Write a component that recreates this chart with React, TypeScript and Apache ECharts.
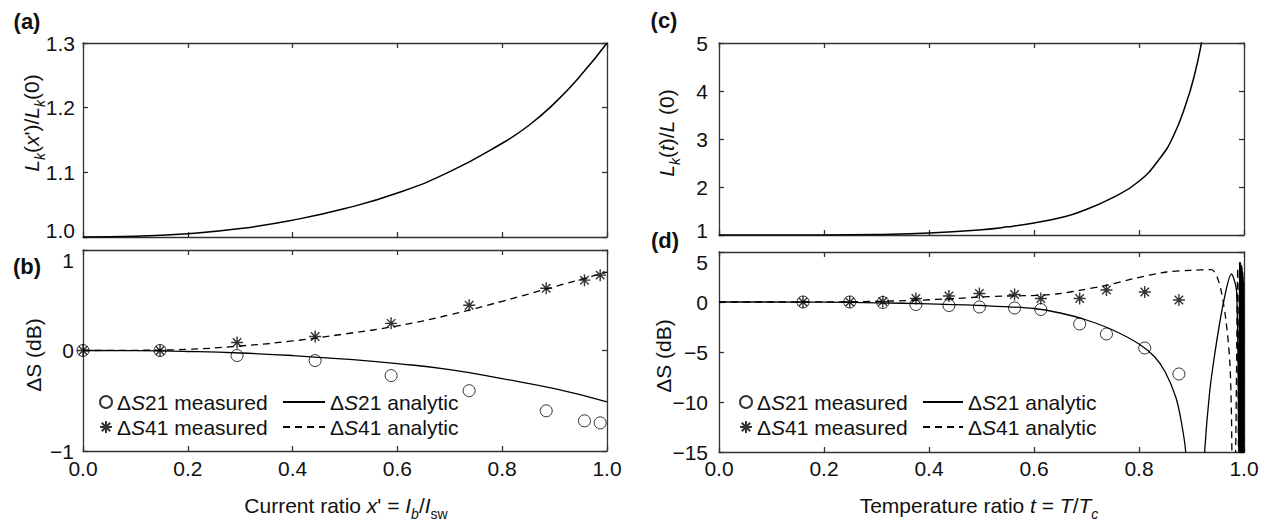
import React, { useEffect, useRef } from "react";
import * as echarts from "echarts";

// ---------- data ----------
// (a) Lk(x')/Lk(0) vs current ratio
const xA = [0, 0.1, 0.2, 0.3, 0.4, 0.5, 0.6, 0.7, 0.8, 0.85, 0.9, 0.95, 1.0];
const lkA = [1.0, 1.001, 1.005, 1.013, 1.026, 1.044, 1.068, 1.101, 1.145, 1.172, 1.207, 1.25, 1.3];

// (b) ΔS vs current ratio
const xMeasB = [0.0, 0.147, 0.294, 0.443, 0.588, 0.737, 0.884, 0.957, 0.987];
const s21MeasB = [0, 0, -0.05, -0.1, -0.25, -0.4, -0.6, -0.7, -0.72];
const s41MeasB = [0, 0, 0.08, 0.14, 0.27, 0.45, 0.62, 0.7, 0.75];
const xAnB = [0, 0.1, 0.2, 0.3, 0.4, 0.5, 0.6, 0.7, 0.8, 0.9, 1.0];
const s21AnB = [0, -0.002, -0.01, -0.025, -0.05, -0.085, -0.13, -0.19, -0.28, -0.38, -0.51];
const s41AnB = [0, 0.002, 0.012, 0.045, 0.095, 0.165, 0.245, 0.355, 0.49, 0.635, 0.78];

// (c) Lk(t)/L(0) vs temperature ratio
const tC = [0, 0.1, 0.2, 0.3, 0.4, 0.5, 0.55, 0.6, 0.65, 0.687, 0.75, 0.8, 0.84, 0.865, 0.89, 0.906, 0.919, 0.928];
const lkC = [1, 1, 1, 1.01, 1.04, 1.11, 1.17, 1.25, 1.36, 1.48, 1.78, 2.12, 2.6, 3.05, 3.75, 4.35, 5.0, 5.6];

// (d) ΔS vs temperature ratio
const tMeasD = [0.16, 0.249, 0.312, 0.375, 0.438, 0.496, 0.563, 0.613, 0.687, 0.738, 0.811, 0.876];
const s21MeasD = [0, 0, -0.05, -0.25, -0.35, -0.5, -0.6, -0.75, -2.2, -3.2, -4.6, -7.2];
const s41MeasD = [0, 0, 0.05, 0.35, 0.6, 0.85, 0.75, 0.35, 0.35, 1.2, 1.0, 0.2];
const t21AnD = [0, 0.1, 0.2, 0.3, 0.4, 0.5, 0.6, 0.65, 0.7, 0.75, 0.8, 0.83, 0.85, 0.87, 0.88, 0.889, 0.9, 0.915, 0.925, 0.934, 0.944, 0.96, 0.976, 0.986, 0.99, 0.9915, 0.9925, 0.9932, 0.994, 0.9947, 0.9955, 0.9962, 0.997, 0.9977, 0.9984, 0.999, 0.9995, 1.0];
const s21AnD = [0, 0, -0.02, -0.08, -0.18, -0.35, -0.65, -1.1, -1.8, -2.8, -4.2, -5.5, -7.0, -9.5, -11.8, -15, -25, -25, -15, -9.3, -5.3, -0.3, 2.8, 1.0, -15, 4, -20, 4, -20, 3.5, -20, 3.5, -20, 3, -20, 2, -20, -20];
const t41AnD = [0, 0.1, 0.2, 0.3, 0.376, 0.45, 0.497, 0.55, 0.611, 0.65, 0.687, 0.738, 0.789, 0.852, 0.897, 0.938, 0.948, 0.957, 0.966, 0.973, 0.976, 0.977, 0.98, 0.984, 0.988, 0.9895, 0.9905, 0.992, 0.993, 0.9938, 0.9945, 0.9952, 0.996, 0.9967, 0.9975, 0.9982, 0.9988, 0.9993, 1.0];
const s41AnD = [0, 0, 0.01, 0.06, 0.17, 0.35, 0.5, 0.6, 0.67, 0.85, 1.17, 1.67, 2.33, 3.0, 3.17, 3.23, 2.6, 1.0, -2, -6, -11, -15, -22, -15, 3.4, -15, -22, 3.8, -22, 3.5, -22, 3.8, -22, 3, -22, 2.5, -22, 1, -22];

const N_S21M = "ΔS21 measured";
const N_S21A = "ΔS21 analytic";
const N_S41M = "ΔS41 measured";
const N_S41A = "ΔS41 analytic";

// ---------- styling ----------
const FONT = "'Liberation Sans', Arial, Helvetica, sans-serif";
const AX = "#333";
const TXT = "#111";
const STAR = "path://M0,-10L0,10M-10,0L10,0M-7.07,-7.07L7.07,7.07M-7.07,7.07L7.07,-7.07";

const pairs = (xs: number[], ys: number[]) => xs.map((x, i) => [x, ys[i]]);
const minus = (v: number) => String(v).replace("-", "\u2212");

const grids = [
  { left: 83, top: 43, width: 524, height: 194 },
  { left: 83, top: 250, width: 524, height: 201 },
  { left: 719, top: 43, width: 525, height: 192 },
  { left: 719, top: 252, width: 525, height: 200 },
];

// label nudges: edge labels are shifted away from the neighbouring panel
const labelRich = {
  up: { padding: [0, 0, 14, 0], fontSize: 21, fontFamily: FONT, color: TXT },
  upc: { padding: [0, 0, 10, 0], fontSize: 21, fontFamily: FONT, color: TXT },
  dn: { padding: [20, 0, 0, 0], fontSize: 21, fontFamily: FONT, color: TXT },
};

function axis(gridIndex: number, position: string, showLabel: boolean, min: number, max: number, interval: number, fmt: (v: number) => string, margin: number) {
  return {
    type: "value",
    gridIndex,
    position,
    min,
    max,
    interval,
    axisLine: { show: true, onZero: false, lineStyle: { color: AX, width: 1.3 } },
    axisTick: { show: true, inside: true, length: 5, lineStyle: { color: AX, width: 1.3 } },
    splitLine: { show: false },
    axisLabel: {
      show: showLabel,
      formatter: fmt,
      color: TXT,
      fontSize: 21,
      fontFamily: FONT,
      margin,
      rich: labelRich,
    },
  };
}

const fx1 = (v: number) => v.toFixed(1);
const fmtA = (v: number) => (Math.abs(v - 1) < 1e-6 ? `{up|${v.toFixed(1)}}` : v.toFixed(1));
const fmtB = (v: number) => (v === 1 ? `{dn|1}` : minus(v));
const fmtC = (v: number) => (v === 1 ? `{upc|1}` : minus(v));
const fmtD = (v: number) => (v === 5 ? `{dn|5}` : minus(v));

const legendRich = {
  n: { fontSize: 21, fontFamily: FONT, color: TXT },
  i: { fontSize: 21, fontFamily: FONT, color: TXT, fontStyle: "italic" },
};
const legendFmt = (name: string) => `{n|Δ}{i|S}{n|${name.slice(2)}}`;

function legend(left: number, names: string[], itemWidth: number, hideSymbol: boolean) {
  const l: any = {
    data: names,
    orient: "vertical",
    left,
    top: 391,
    padding: 0,
    itemWidth,
    itemHeight: 12,
    itemGap: 3,
    formatter: legendFmt,
    selectedMode: false,
    textStyle: { fontSize: 21, fontFamily: FONT, color: TXT, lineHeight: 22, rich: legendRich },
  };
  if (hideSymbol) l.itemStyle = { color: "rgba(0,0,0,0)", borderColor: "rgba(0,0,0,0)", borderWidth: 0, opacity: 0 };
  return l;
}

const tRich = {
  n: { fontSize: 21, fontFamily: FONT, fill: TXT, lineHeight: 32, verticalAlign: "middle" },
  i: { fontSize: 21, fontFamily: FONT, fill: TXT, lineHeight: 32, verticalAlign: "middle", fontStyle: "italic" },
  si: { fontSize: 14, fontFamily: FONT, fill: TXT, lineHeight: 14, verticalAlign: "bottom", fontStyle: "italic" },
  sn: { fontSize: 14, fontFamily: FONT, fill: TXT, lineHeight: 14, verticalAlign: "bottom" },
};

function richText(x: number, y: number, text: string, rotate: boolean) {
  return {
    type: "text",
    x,
    y,
    rotation: rotate ? Math.PI / 2 : 0,
    style: { text, rich: tRich, align: "center", verticalAlign: "middle", fontSize: 21, fontFamily: FONT, fill: TXT },
    silent: true,
  };
}

function plainText(x: number, y: number, text: string, rotate: boolean, bold = false) {
  return {
    type: "text",
    x,
    y,
    rotation: rotate ? Math.PI / 2 : 0,
    style: {
      text,
      align: "center",
      verticalAlign: "middle",
      fontSize: bold ? 22 : 21,
      fontWeight: bold ? "bold" : "normal",
      fontFamily: FONT,
      fill: TXT,
    },
    silent: true,
  };
}

const circleStyle = { color: "rgba(0,0,0,0)", borderColor: "#000", borderWidth: 1 };
const starStyle = { color: "rgba(0,0,0,0)", borderColor: "#000", borderWidth: 1.4 };

function buildOption() {
  return {
    animation: false,
    backgroundColor: "#fff",
    grid: grids,
    xAxis: [
      axis(0, "bottom", false, 0, 1, 0.2, fx1, 8),
      axis(1, "bottom", true, 0, 1, 0.2, fx1, 7),
      axis(2, "bottom", false, 0, 1, 0.2, fx1, 8),
      axis(3, "bottom", true, 0, 1, 0.2, fx1, 6),
      axis(0, "top", false, 0, 1, 0.2, fx1, 8),
      axis(1, "top", false, 0, 1, 0.2, fx1, 8),
      axis(2, "top", false, 0, 1, 0.2, fx1, 8),
      axis(3, "top", false, 0, 1, 0.2, fx1, 8),
    ],
    yAxis: [
      axis(0, "left", true, 1.0, 1.3, 0.1, fmtA, 8),
      axis(1, "left", true, -1, 1, 1, fmtB, 9),
      axis(2, "left", true, 1, 5, 1, fmtC, 11),
      axis(3, "left", true, -15, 5, 5, fmtD, 11),
      axis(0, "right", false, 1.0, 1.3, 0.1, fx1, 8),
      axis(1, "right", false, -1, 1, 1, minus, 8),
      axis(2, "right", false, 1, 5, 1, minus, 8),
      axis(3, "right", false, -15, 5, 5, minus, 8),
    ],
    legend: [
      legend(99, [N_S21M, N_S41M], 12, false),
      legend(282, [N_S21A, N_S41A], 42, true),
      legend(739, [N_S21M, N_S41M], 12, false),
      legend(922, [N_S21A, N_S41A], 40, true),
    ],
    series: [
      {
        type: "line", name: "Lk(x')", xAxisIndex: 0, yAxisIndex: 0, data: pairs(xA, lkA),
        smooth: 0.5, symbol: "none", lineStyle: { color: "#000", width: 1.5 },
      },
      {
        type: "line", name: N_S21A, xAxisIndex: 1, yAxisIndex: 1, data: pairs(xAnB, s21AnB),
        smooth: 0.5, symbol: "none", itemStyle: { color: "#000" }, lineStyle: { color: "#000", width: 1.3 },
      },
      {
        type: "line", name: N_S41A, xAxisIndex: 1, yAxisIndex: 1, data: pairs(xAnB, s41AnB),
        smooth: 0.5, symbol: "none", itemStyle: { color: "#000" }, lineStyle: { color: "#000", width: 1.3, type: [7, 5] },
      },
      {
        type: "scatter", name: N_S21M, xAxisIndex: 1, yAxisIndex: 1, data: pairs(xMeasB, s21MeasB),
        symbol: "circle", symbolSize: 12, itemStyle: circleStyle, clip: false,
      },
      {
        type: "scatter", name: N_S41M, xAxisIndex: 1, yAxisIndex: 1, data: pairs(xMeasB, s41MeasB),
        symbol: STAR, symbolSize: 12, itemStyle: starStyle, clip: false,
      },
      {
        type: "line", name: "Lk(t)", xAxisIndex: 2, yAxisIndex: 2, data: pairs(tC, lkC),
        smooth: 0.5, symbol: "none", lineStyle: { color: "#000", width: 1.5 }, clip: true,
      },
      {
        type: "line", name: N_S21A, xAxisIndex: 3, yAxisIndex: 3, data: pairs(t21AnD, s21AnD),
        smooth: 0.3, symbol: "none", itemStyle: { color: "#000" }, lineStyle: { color: "#000", width: 1.3 }, clip: true,
      },
      {
        type: "line", name: N_S41A, xAxisIndex: 3, yAxisIndex: 3, data: pairs(t41AnD, s41AnD),
        smooth: 0.3, symbol: "none", itemStyle: { color: "#000" }, lineStyle: { color: "#000", width: 1.3, type: [7, 5] }, clip: true,
      },
      {
        type: "scatter", name: N_S21M, xAxisIndex: 3, yAxisIndex: 3, data: pairs(tMeasD, s21MeasD),
        symbol: "circle", symbolSize: 12, itemStyle: circleStyle, clip: false,
      },
      {
        type: "scatter", name: N_S41M, xAxisIndex: 3, yAxisIndex: 3, data: pairs(tMeasD, s41MeasD),
        symbol: STAR, symbolSize: 12, itemStyle: starStyle, clip: false,
      },
    ],
    graphic: [
      plainText(27, 21, "(a)", false, true),
      plainText(27, 266, "(b)", false, true),
      plainText(664, 20, "(c)", false, true),
      plainText(665, 240, "(d)", false, true),
      richText(31, 123, "{i|L}{si|k}{n|(}{i|x}{n|')/}{i|L}{si|k}{n|(0)}", true),
      plainText(33, 355, "ΔS (dB)", true),
      richText(666, 133, "{i|L}{si|k}{n|(}{i|t}{n|)/}{i|L}{n| (0)}", true),
      plainText(663, 356, "ΔS (dB)", true),
      richText(346, 505, "{n|Current ratio }{i|x}{n|' = }{i|I}{si|b}{n|/}{i|I}{sn|sw}", false),
      richText(979, 505, "{n|Temperature ratio }{i|t}{n| = }{i|T}{n|/}{i|T}{si|c}", false),
    ],
  };
}

export default function App() {
  const ref = useRef<HTMLDivElement>(null);
  useEffect(() => {
    if (!ref.current) return;
    const chart = echarts.init(ref.current, null, { renderer: "svg" });
    chart.setOption(buildOption() as any);
    return () => chart.dispose();
  }, []);
  return (
    <div
      ref={ref}
      style={{ position: "absolute", left: 0, top: 0, width: 1276, height: 531, background: "#fff" }}
    />
  );
}
